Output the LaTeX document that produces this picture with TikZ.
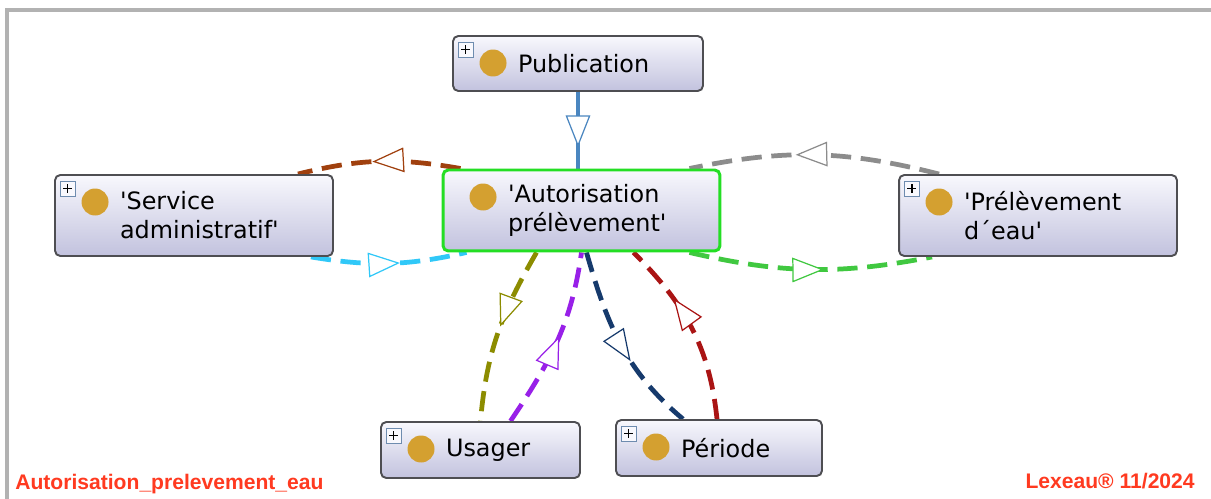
\documentclass[tikz,border=0pt]{standalone}
\usepackage{fontspec}
\newfontfamily\nodefont{DejaVu Sans}
\newfontfamily\tagfont{Liberation Sans}
\usetikzlibrary{arrows.meta,calc,decorations.markings,backgrounds}

\definecolor{clstop}{RGB}{248,248,253}
\definecolor{clsbot}{RGB}{194,194,222}
\definecolor{clsline}{RGB}{78,78,82}
\definecolor{dotgold}{RGB}{212,160,48}
\definecolor{plusline}{RGB}{110,140,175}
\definecolor{selgreen}{RGB}{36,222,36}
\definecolor{tagred}{RGB}{255,58,32}
\definecolor{framegray}{RGB}{178,178,178}
\definecolor{pubblue}{RGB}{74,134,192}
\definecolor{srvbrown}{RGB}{160,64,14}
\definecolor{srvcyan}{RGB}{48,200,248}
\definecolor{pregray}{RGB}{140,140,140}
\definecolor{pregreen}{RGB}{64,200,64}
\definecolor{usaolive}{RGB}{140,140,0}
\definecolor{usapurple}{RGB}{152,32,232}
\definecolor{pernavy}{RGB}{22,58,108}
\definecolor{perred}{RGB}{170,20,20}

% gold dot and small expand box inside a class node
\newcommand\clsdot{%
  \path[fill=dotgold,draw=none]
    ($(path picture bounding box.north west)+(40,-27)$) circle (0.27cm);}
\newcommand\clsplus{%
  \path[draw=plusline,fill=clstop,line width=0.5pt,sharp corners]
    ($(path picture bounding box.north west)+(5,-6)$) rectangle +(15,-15);
  \path[draw=black,line width=1.1pt,sharp corners]
    ($(path picture bounding box.north west)+(8,-13.5)$) -- +(9,0)
    ($(path picture bounding box.north west)+(12.5,-9)$) -- +(0,-9);}

\tikzstyle{cls}=[draw=clsline,line width=1.1pt,rounded corners=3pt,
                 top color=clstop,bottom color=clsbot,align=left,
                 inner xsep=1.3cm,inner ysep=0pt,
                 font=\nodefont\fontsize{13.6}{16.5}\selectfont,
                 path picture={\clsdot}]
\tikzstyle{clsx}=[cls,path picture={\clsdot\clsplus}]
\tikzstyle{tag}=[text=tagred,inner sep=0pt,
                 font=\tagfont\bfseries\fontsize{12}{14}\selectfont]
\tikzstyle{rel}=[line width=2.7pt,dash pattern=on 11.5pt off 5.5pt,
                 postaction={decorate}]
\tikzstyle{relsolid}=[line width=2.8pt,postaction={decorate}]
\tikzset{tipat/.style={decoration={markings,
           mark=at position #1 with {\arrow{>}}}}}

\begin{document}
\begin{tikzpicture}[x=0.02cm,y=0.02cm,
    >={Triangle[fill=white,length=18pt,width=14pt,line width=0.7pt]}]
  \useasboundingbox (0,0) rectangle (1211,-499);

  \node[clsx,minimum height=1.1cm,text width=2.4cm] (pub) at (578,-63.5) {Publication};
  \node[cls,draw=selgreen,line width=1.7pt,minimum height=1.62cm,text width=2.94cm]
    (aut) at (581.5,-210.5) {\textquotesingle Autorisation\\prélèvement\textquotesingle};
  \node[clsx,minimum height=1.62cm,text width=2.96cm] (srv) at (194,-215.5)
    {\textquotesingle Service\\administratif\textquotesingle};
  \node[clsx,minimum height=1.62cm,text width=2.96cm] (pre) at (1038,-215.5)
    {\textquotesingle Prélèvement\\d´eau\textquotesingle};
  \node[clsx,minimum height=1.12cm,text width=1.38cm] (usa) at (480.5,-450) {Usager};
  \node[clsx,minimum height=1.12cm,text width=1.52cm] (per) at (719,-448) {Période};

  \node[tag,anchor=base west] (title) at (15,-490) {Autorisation\_prelevement\_eau};
  \node[tag,anchor=base east] (stamp) at (1195,-489) {Lexeau® 11/2024};

  \begin{scope}[on background layer]
    \fill[white] (0,0) rectangle (1211,-499);
    \draw[framegray,line width=0.08cm] (7,-499) -- (7,-10) -- (1211,-10);

    \draw[relsolid,color=pubblue,tipat=0.72]
      (pub.south) -- (pub.south |- aut.north);
    \draw[rel,color=srvbrown,tipat=0.54]
      ($(aut.north west)+(19,0)$) to[bend right=12] ($(srv.north east)+(-36,0)$);
    \draw[rel,color=srvcyan,tipat=0.57]
      ($(srv.south east)+(-23,0)$) to[bend right=11] ($(aut.south west)+(25,0)$);
    \draw[rel,color=pregray,tipat=0.575]
      ($(pre.north west)+(41,0)$) to[bend right=13] ($(aut.north east)+(-32,0)$);
    \draw[rel,color=pregreen,tipat=0.555]
      ($(aut.south east)+(-32,0)$) to[bend right=12] ($(pre.south west)+(34,0)$);
    \draw[rel,color=usaolive,tipat=0.46]
      ($(aut.south)+(-45,0)$) to[out=-120,in=85] (usa.north);
    \draw[rel,color=usapurple,tipat=0.53]
      ($(usa.north)+(30,0)$) to[out=56,in=-98] (aut.south);
    \draw[rel,color=pernavy,tipat=0.6]
      ($(aut.south)+(5,0)$) to[out=-74,in=140] ($(per.north)+(-36,0)$);
    \draw[rel,color=perred,tipat=0.68]
      ($(per.north)+(-2,0)$) to[out=96,in=-45] ($(aut.south)+(52,0)$);
  \end{scope}
\end{tikzpicture}
\end{document}
